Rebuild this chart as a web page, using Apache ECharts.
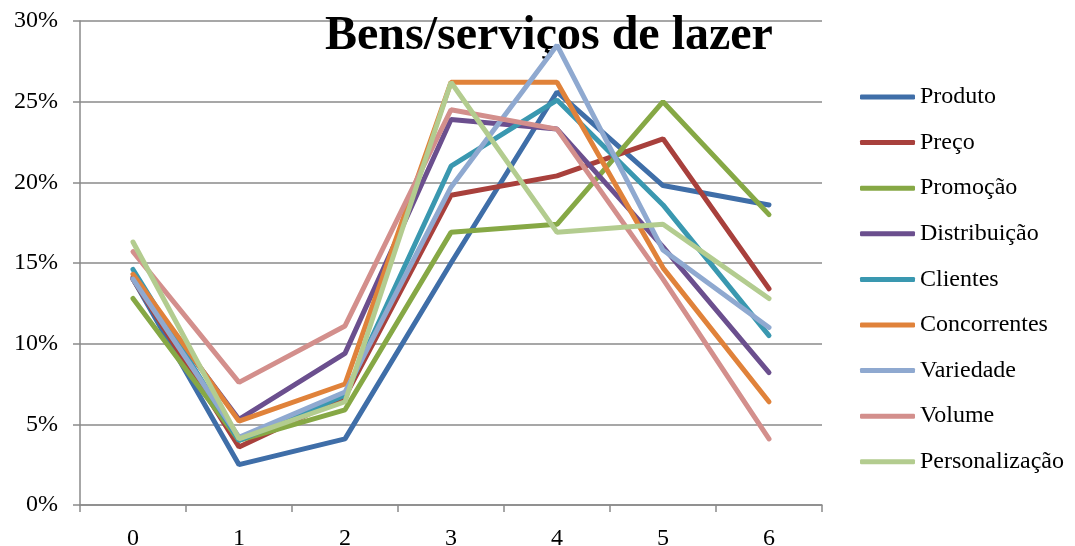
<!DOCTYPE html>
<html>
<head>
<meta charset="utf-8">
<script src="https://cdn.jsdelivr.net/npm/echarts@6/dist/echarts.min.js"></script>
<style>
  html, body { margin: 0; padding: 0; background: #ffffff; }
  #chart { width: 1075px; height: 546px; }
</style>
</head>
<body>
<div id="chart"></div>
<script>
// Share of responses (%) per rating level, one line per attribute
const categories = ['0', '1', '2', '3', '4', '5', '6'];
const yTicks = [0, 5, 10, 15, 20, 25, 30];

const produto        = [14.0, 2.5, 4.1, 15.0, 25.6, 19.8, 18.6];
const preco          = [14.0, 3.6, 6.7, 19.2, 20.4, 22.7, 13.4];
const promocao       = [12.8, 4.0, 5.9, 16.9, 17.4, 25.0, 18.0];
const distribuicao   = [14.1, 5.3, 9.4, 23.9, 23.3, 16.0, 8.2];
const clientes       = [14.6, 4.0, 6.8, 21.0, 25.1, 18.6, 10.5];
const concorrentes   = [14.3, 5.2, 7.5, 26.2, 26.2, 14.7, 6.4];
const variedade      = [14.0, 4.2, 7.0, 19.7, 28.5, 15.8, 11.0];
const volume         = [15.7, 7.6, 11.1, 24.5, 23.3, 14.0, 4.1];
const personalizacao = [16.3, 4.1, 6.4, 26.2, 16.9, 17.4, 12.8];

const seriesNames = ['Produto', 'Preço', 'Promoção', 'Distribuição', 'Clientes',
                     'Concorrentes', 'Variedade', 'Volume', 'Personalização'];
const seriesData = [produto, preco, promocao, distribuicao, clientes,
                    concorrentes, variedade, volume, personalizacao];
const seriesColors = ['#3F6EA8', '#A8403C', '#86A845', '#6B4F8E', '#3A98B0',
                      '#E0823A', '#8FA9D0', '#D38F8C', '#B3CC8F'];

const FONT = 'Liberation Serif';

const chart = echarts.init(document.getElementById('chart'), null, { renderer: 'canvas' });

chart.setOption({
  animation: false,
  backgroundColor: '#ffffff',
  color: seriesColors,
  title: {
    text: 'Bens/serviços de lazer',
    left: 320,
    top: 8,
    textStyle: { fontFamily: FONT, fontSize: 48, fontWeight: 'bold', color: '#000000' }
  },
  grid: { left: 80, right: 253, top: 21, bottom: 41, containLabel: false, outerBoundsMode: 'none' },
  legend: {
    orient: 'vertical',
    left: 855,
    top: 80,
    icon: 'roundRect',
    itemWidth: 55,
    itemHeight: 5,
    itemGap: 21.6,
    data: seriesNames,
    textStyle: { fontFamily: FONT, fontSize: 24, color: '#000000', lineHeight: 24 }
  },
  xAxis: {
    type: 'category',
    data: categories,
    boundaryGap: true,
    axisLine: { lineStyle: { color: '#8a8a8a', width: 1.5 } },
    axisTick: { show: true, length: 7, inside: false, lineStyle: { color: '#8a8a8a', width: 1.5 } },
    axisLabel: { fontFamily: FONT, fontSize: 24, color: '#000000', margin: 22 },
    splitLine: { show: false }
  },
  yAxis: {
    type: 'value',
    min: yTicks[0],
    max: yTicks[yTicks.length - 1],
    interval: 5,
    axisLine: { show: true, lineStyle: { color: '#8a8a8a', width: 1.5 } },
    axisTick: { show: true, length: 7, inside: false, lineStyle: { color: '#8a8a8a', width: 1.5 } },
    axisLabel: { fontFamily: FONT, fontSize: 24, color: '#000000', margin: 22, formatter: '{value}%' },
    splitLine: { show: true, lineStyle: { color: '#8a8a8a', width: 1.5 } }
  },
  series: seriesNames.map((name, i) => ({
    name: name,
    type: 'line',
    data: seriesData[i],
    symbol: 'none',
    lineStyle: { width: 5, color: seriesColors[i], cap: 'round' },
    itemStyle: { color: seriesColors[i] },
    z: 2 + i
  }))
});
</script>
</body>
</html>
